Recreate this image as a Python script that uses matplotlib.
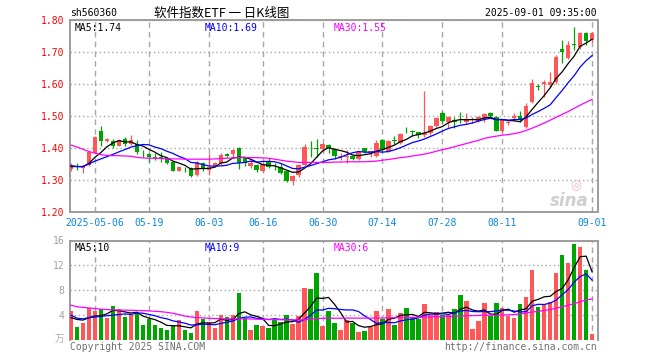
import numpy as np
import pandas as pd
import matplotlib
matplotlib.use("Agg")
import matplotlib.pyplot as plt


# ------------------------------------------------------------
# Trading days shown (2025-04-25 .. 2025-09-01, holidays removed)
# ------------------------------------------------------------
dates = pd.bdate_range("2025-04-25", "2025-09-01")
holidays = pd.to_datetime(["2025-05-01", "2025-05-02", "2025-05-05", "2025-06-02"])
dates = dates[~dates.isin(holidays)]

tick_dates = ["2025-05-06", "2025-05-19", "2025-06-03", "2025-06-16", "2025-06-30",
              "2025-07-14", "2025-07-28", "2025-08-11", "2025-09-01"]
tick_labels = ["2025-05-06", "05-19", "06-03", "06-16", "06-30",
               "07-14", "07-28", "08-11", "09-01"]

# ------------------------------------------------------------
# Daily K-line data
# ------------------------------------------------------------
open_ = [1.335, 1.345, 1.337, 1.347, 1.385, 1.453, 1.423, 1.422, 1.407, 1.428,
         1.411, 1.414, 1.385, 1.381, 1.372, 1.372, 1.370, 1.356, 1.329, 1.335,
         1.337, 1.316, 1.354, 1.332, 1.344, 1.352, 1.381, 1.381, 1.401, 1.370,
         1.345, 1.347, 1.329, 1.357, 1.345, 1.342, 1.329, 1.297, 1.316, 1.347,
         1.398, 1.400, 1.396, 1.409, 1.397, 1.371, 1.373, 1.375, 1.366, 1.399,
         1.385, 1.375, 1.425, 1.392, 1.424, 1.415, 1.457, 1.452, 1.449, 1.441,
         1.448, 1.469, 1.508, 1.482, 1.488, 1.489, 1.482, 1.486, 1.485, 1.490,
         1.508, 1.498, 1.453, 1.478, 1.493, 1.500, 1.467, 1.545, 1.593, 1.600,
         1.597, 1.607, 1.708, 1.680, 1.725, 1.715, 1.760, 1.737]
high = [1.354, 1.354, 1.348, 1.390, 1.437, 1.469, 1.432, 1.427, 1.428, 1.434,
        1.440, 1.425, 1.394, 1.384, 1.384, 1.388, 1.373, 1.359, 1.344, 1.342,
        1.340, 1.360, 1.357, 1.381, 1.356, 1.385, 1.385, 1.396, 1.403, 1.373,
        1.359, 1.349, 1.354, 1.370, 1.352, 1.352, 1.331, 1.316, 1.350, 1.411,
        1.423, 1.427, 1.415, 1.412, 1.400, 1.384, 1.395, 1.378, 1.391, 1.400,
        1.391, 1.425, 1.427, 1.425, 1.437, 1.446, 1.467, 1.456, 1.450, 1.578,
        1.472, 1.498, 1.516, 1.500, 1.498, 1.514, 1.508, 1.498, 1.500, 1.508,
        1.514, 1.500, 1.490, 1.488, 1.508, 1.517, 1.540, 1.615, 1.600, 1.612,
        1.639, 1.690, 1.738, 1.735, 1.777, 1.764, 1.764, 1.764]
low = [1.328, 1.330, 1.321, 1.345, 1.383, 1.407, 1.418, 1.399, 1.405, 1.405,
       1.408, 1.380, 1.373, 1.355, 1.361, 1.355, 1.350, 1.327, 1.327, 1.325,
       1.310, 1.314, 1.327, 1.316, 1.342, 1.347, 1.373, 1.370, 1.334, 1.344,
       1.338, 1.326, 1.326, 1.339, 1.331, 1.319, 1.295, 1.284, 1.310, 1.345,
       1.373, 1.373, 1.389, 1.385, 1.367, 1.363, 1.352, 1.363, 1.363, 1.385,
       1.372, 1.372, 1.386, 1.389, 1.412, 1.412, 1.446, 1.437, 1.430, 1.433,
       1.441, 1.466, 1.477, 1.461, 1.464, 1.477, 1.475, 1.478, 1.482, 1.482,
       1.496, 1.452, 1.451, 1.471, 1.484, 1.481, 1.461, 1.540, 1.580, 1.560,
       1.592, 1.600, 1.667, 1.677, 1.706, 1.710, 1.722, 1.732]
close = [1.345, 1.342, 1.345, 1.387, 1.435, 1.423, 1.428, 1.406, 1.425, 1.412,
         1.425, 1.386, 1.383, 1.373, 1.370, 1.370, 1.354, 1.329, 1.342, 1.333,
         1.314, 1.357, 1.333, 1.341, 1.354, 1.378, 1.376, 1.394, 1.352, 1.353,
         1.352, 1.331, 1.350, 1.342, 1.343, 1.323, 1.298, 1.312, 1.347, 1.402,
         1.396, 1.398, 1.411, 1.399, 1.375, 1.375, 1.376, 1.366, 1.387, 1.389,
         1.390, 1.417, 1.394, 1.422, 1.422, 1.443, 1.455, 1.450, 1.441, 1.448,
         1.469, 1.495, 1.484, 1.498, 1.480, 1.487, 1.490, 1.489, 1.496, 1.506,
         1.500, 1.454, 1.487, 1.482, 1.501, 1.487, 1.532, 1.602, 1.591, 1.606,
         1.607, 1.685, 1.701, 1.722, 1.721, 1.760, 1.735, 1.760]

ma5 = [1.342, 1.342, 1.342, 1.352, 1.371, 1.386, 1.404, 1.416, 1.423, 1.419,
       1.419, 1.411, 1.406, 1.396, 1.387, 1.376, 1.370, 1.359, 1.353, 1.346,
       1.334, 1.335, 1.336, 1.336, 1.340, 1.353, 1.356, 1.369, 1.371, 1.371,
       1.365, 1.356, 1.348, 1.346, 1.344, 1.338, 1.331, 1.324, 1.325, 1.337,
       1.351, 1.371, 1.391, 1.401, 1.396, 1.392, 1.387, 1.378, 1.376, 1.379,
       1.382, 1.390, 1.395, 1.402, 1.409, 1.420, 1.427, 1.438, 1.442, 1.447,
       1.453, 1.461, 1.467, 1.479, 1.485, 1.489, 1.488, 1.489, 1.488, 1.494,
       1.496, 1.489, 1.489, 1.486, 1.485, 1.482, 1.498, 1.521, 1.543, 1.564,
       1.588, 1.618, 1.638, 1.664, 1.687, 1.718, 1.728, 1.740]
ma10 = [1.345, 1.342, 1.342, 1.350, 1.359, 1.366, 1.373, 1.380, 1.388, 1.395,
        1.403, 1.407, 1.411, 1.410, 1.403, 1.398, 1.390, 1.383, 1.374, 1.367,
        1.355, 1.353, 1.348, 1.344, 1.343, 1.344, 1.346, 1.352, 1.353, 1.355,
        1.359, 1.356, 1.358, 1.358, 1.357, 1.352, 1.344, 1.336, 1.335, 1.340,
        1.345, 1.351, 1.357, 1.363, 1.366, 1.371, 1.379, 1.385, 1.389, 1.387,
        1.387, 1.389, 1.387, 1.389, 1.394, 1.401, 1.409, 1.417, 1.422, 1.428,
        1.436, 1.444, 1.453, 1.461, 1.466, 1.471, 1.474, 1.478, 1.484, 1.489,
        1.493, 1.488, 1.489, 1.487, 1.489, 1.489, 1.494, 1.505, 1.514, 1.524,
        1.535, 1.558, 1.580, 1.604, 1.626, 1.653, 1.673, 1.689]
ma30 = [1.409, 1.403, 1.396, 1.389, 1.384, 1.379, 1.377, 1.376, 1.376, 1.375,
        1.374, 1.371, 1.369, 1.368, 1.368, 1.367, 1.366, 1.366, 1.366, 1.365,
        1.365, 1.365, 1.365, 1.365, 1.366, 1.367, 1.368, 1.369, 1.370, 1.370,
        1.370, 1.370, 1.369, 1.368, 1.365, 1.362, 1.359, 1.357, 1.355, 1.355,
        1.355, 1.355, 1.355, 1.355, 1.356, 1.356, 1.357, 1.357, 1.357, 1.357,
        1.358, 1.359, 1.362, 1.364, 1.367, 1.370, 1.372, 1.375, 1.378, 1.381,
        1.385, 1.390, 1.395, 1.399, 1.404, 1.409, 1.414, 1.419, 1.424, 1.430,
        1.434, 1.437, 1.440, 1.442, 1.445, 1.449, 1.455, 1.462, 1.470, 1.478,
        1.487, 1.496, 1.505, 1.514, 1.524, 1.534, 1.543, 1.552]

# volume, unit: 10k lots
volume = [4.64, 2.08, 2.72, 5.17, 4.64, 4.96, 3.57, 5.44, 4.96, 3.68,
          4.00, 4.27, 2.40, 3.31, 2.40, 1.97, 1.65, 2.19, 3.20, 1.60,
          1.12, 4.64, 3.31, 2.88, 1.97, 4.00, 3.63, 4.00, 7.57, 3.47,
          1.60, 2.40, 2.24, 1.97, 3.31, 2.93, 4.00, 2.56, 3.89, 8.37,
          8.16, 10.77, 2.24, 4.69, 2.77, 1.60, 3.20, 2.67, 1.33, 1.49,
          2.13, 4.69, 3.36, 4.96, 2.40, 4.37, 5.17, 3.63, 3.31, 5.76,
          4.00, 4.53, 4.00, 4.00, 4.96, 7.20, 6.24, 1.76, 3.04, 5.92,
          3.89, 5.92, 5.12, 3.89, 3.52, 5.76, 6.88, 11.20, 5.33, 5.60,
          6.13, 10.77, 13.60, 12.32, 15.36, 14.93, 11.20, 0.96]
vol_ma5 = [3.60, 3.30, 3.20, 3.60, 3.85, 3.91, 4.21, 4.76, 4.71, 4.52,
           4.33, 4.47, 3.86, 3.53, 3.28, 2.87, 2.35, 2.30, 2.28, 2.12,
           1.95, 2.55, 2.77, 2.71, 2.78, 3.36, 3.16, 3.30, 4.23, 4.53,
           4.05, 3.81, 3.46, 2.34, 2.30, 2.57, 2.89, 2.95, 3.34, 4.35,
           5.40, 6.75, 6.69, 6.85, 5.73, 4.41, 2.90, 2.99, 2.31, 2.06,
           2.16, 2.46, 2.60, 3.33, 3.51, 3.96, 4.05, 4.11, 3.78, 4.45,
           4.37, 4.25, 4.32, 4.46, 4.30, 4.94, 5.28, 4.83, 4.64, 4.83,
           4.17, 4.11, 4.78, 4.95, 4.47, 4.84, 5.03, 6.25, 6.54, 6.95,
           7.03, 7.81, 8.29, 9.68, 11.64, 13.40, 13.48, 10.95]
vol_ma10 = [4.00, 3.50, 3.40, 3.60, 3.70, 3.80, 3.90, 4.00, 4.10, 4.19,
            4.12, 4.34, 4.31, 4.12, 3.90, 3.60, 3.41, 3.08, 2.91, 2.70,
            2.41, 2.45, 2.54, 2.50, 2.45, 2.66, 2.85, 3.04, 3.47, 3.66,
            3.71, 3.48, 3.38, 3.29, 3.42, 3.31, 3.35, 3.21, 2.84, 3.33,
            3.98, 4.82, 4.82, 5.09, 5.04, 4.91, 4.83, 4.84, 4.58, 3.89,
            3.29, 2.68, 2.79, 2.82, 2.78, 3.06, 3.26, 3.35, 3.55, 3.98,
            4.17, 4.15, 4.21, 4.12, 4.37, 4.66, 4.76, 4.58, 4.55, 4.57,
            4.55, 4.69, 4.81, 4.79, 4.65, 4.51, 4.57, 5.51, 5.74, 5.71,
            5.94, 6.42, 7.27, 8.11, 9.30, 10.21, 10.64, 9.62]
vol_ma30 = [5.60, 5.35, 5.25, 5.15, 5.05, 4.95, 4.90, 4.85, 4.80, 4.80,
            4.78, 4.75, 4.72, 4.68, 4.62, 4.55, 4.45, 4.30, 4.10, 3.85,
            3.70, 3.60, 3.55, 3.50, 3.45, 3.42, 3.40, 3.40, 3.40, 3.40,
            3.38, 3.35, 3.32, 3.30, 3.28, 3.26, 3.25, 3.24, 3.24, 3.25,
            3.35, 3.45, 3.48, 3.50, 3.50, 3.50, 3.52, 3.52, 3.52, 3.52,
            3.52, 3.53, 3.54, 3.56, 3.58, 3.60, 3.62, 3.64, 3.66, 3.70,
            3.72, 3.75, 3.78, 3.80, 3.82, 3.86, 3.90, 3.92, 3.95, 4.00,
            4.00, 4.00, 4.02, 4.05, 4.10, 4.20, 4.35, 4.50, 4.60, 4.75,
            4.90, 5.10, 5.35, 5.60, 5.85, 6.15, 6.45, 6.60]

# ------------------------------------------------------------
# Style
# ------------------------------------------------------------
RED = "#ff5757"
GREEN = "#00a600"
GRID = "#a8a8a8"
FRAME = "#9c9c9c"
BLUE_TXT = "#0a86dc"
MONO = "DejaVu Sans Mono"
CJK = ["Noto Sans CJK SC", "DejaVu Sans"]

o = np.array(open_)
h = np.array(high)
l = np.array(low)
c = np.array(close)
x = np.arange(len(dates))
colors = np.where(c >= o, RED, GREEN)
tick_pos = [dates.get_loc(pd.Timestamp(d)) for d in tick_dates]

W, H = 660, 360
fig = plt.figure(figsize=(W / 100, H / 100), dpi=100)
ax = fig.add_axes([70 / W, 148 / H, 528 / W, 192 / H])
axv = fig.add_axes([70 / W, 20 / H, 528 / W, 99.5 / H])

x_lim = (-0.17, 87.98)

# ---- price panel ----
ax.vlines(x, l, h, colors=colors, lw=0.9, zorder=3)
ax.bar(x, np.maximum(np.abs(c - o), 0.0012), bottom=np.minimum(o, c),
       width=0.74, color=colors, lw=0, zorder=3)
ax.plot(x, ma5, color="black", lw=0.9, zorder=4)
ax.plot(x, ma10, color="#0000ff", lw=0.9, zorder=4)
ax.plot(x, ma30, color="#ff00ff", lw=0.9, zorder=4)

ax.set_xlim(*x_lim)
ax.set_ylim(1.20, 1.80)
ax.set_yticks([1.20, 1.30, 1.40, 1.50, 1.60, 1.70, 1.80])
ax.set_yticklabels([f"{v:.2f}" for v in [1.20, 1.30, 1.40, 1.50, 1.60, 1.70, 1.80]],
                   color="#ff0000", family=MONO, fontsize=7)
ax.set_xticks(tick_pos)
ax.set_xticklabels(tick_labels, color=BLUE_TXT, family=MONO, fontsize=7)
ax.tick_params(axis="both", length=0)
ax.tick_params(axis="y", pad=4)
ax.tick_params(axis="x", pad=4)
ax.grid(axis="y", color=GRID, ls=(0, (1, 2)), lw=1)
ax.grid(axis="x", color=GRID, ls=(0, (4, 3)), lw=1)
ax.set_axisbelow(True)
for s in ax.spines.values():
    s.set_color(FRAME)
    s.set_linewidth(1.4)

ax.text(0.008, 0.985, "MA5:1.74", transform=ax.transAxes, ha="left", va="top",
        family=MONO, fontsize=7, color="black")
ax.text(0.255, 0.985, "MA10:1.69", transform=ax.transAxes, ha="left", va="top",
        family=MONO, fontsize=7, color="#0000ff")
ax.text(0.500, 0.985, "MA30:1.55", transform=ax.transAxes, ha="left", va="top",
        family=MONO, fontsize=7, color="#ff00ff")
ax.text(0.945, 0.055, "sina", transform=ax.transAxes, ha="center", va="center",
        fontsize=12, fontweight="bold", style="italic", color="#cfcfcf", zorder=1)
ax.text(0.958, 0.135, "◎", transform=ax.transAxes, ha="center", va="center",
        fontsize=9, color="#f2b8b8", zorder=1)

# ---- volume panel ----
axv.bar(x, volume, width=0.74, color=colors, lw=0, zorder=3)
axv.plot(x, vol_ma5, color="black", lw=0.9, zorder=4)
axv.plot(x, vol_ma10, color="#0000ff", lw=0.9, zorder=4)
axv.plot(x, vol_ma30, color="#ff00ff", lw=0.9, zorder=4)
axv.set_xlim(*x_lim)
axv.set_ylim(0, 16)
axv.set_yticks([4, 8, 12, 16])
axv.set_yticklabels(["4", "8", "12", "16"], color="#a0a0a0", family=MONO, fontsize=7)
axv.set_xticks(tick_pos)
axv.set_xticklabels([])
axv.tick_params(axis="both", length=0)
axv.tick_params(axis="y", pad=4)
axv.grid(axis="y", color=GRID, ls=(0, (1, 2)), lw=1)
axv.grid(axis="x", color=GRID, ls=(0, (4, 3)), lw=1)
axv.set_axisbelow(True)
for s in axv.spines.values():
    s.set_color(FRAME)
    s.set_linewidth(1.4)
axv.spines["bottom"].set_visible(False)

axv.text(0.008, 0.975, "MA5:10", transform=axv.transAxes, ha="left", va="top",
         family=MONO, fontsize=7, color="black")
axv.text(0.255, 0.975, "MA10:9", transform=axv.transAxes, ha="left", va="top",
         family=MONO, fontsize=7, color="#0000ff")
axv.text(0.500, 0.975, "MA30:6", transform=axv.transAxes, ha="left", va="top",
         family=MONO, fontsize=7, color="#ff00ff")

# ---- header / footer texts ----
fig.text(70 / W, 1 - 13 / H, "sh560360", ha="left", va="center",
         family=MONO, fontsize=7, color="black")
fig.text(222 / W, 1 - 13 / H, "软件指数ETF 一 日K线图", ha="center", va="center",
         family=CJK, fontsize=9, color="black")
fig.text(597 / W, 1 - 13 / H, "2025-09-01 09:35:00", ha="right", va="center",
         family=MONO, fontsize=7, color="black")
fig.text(64 / W, 1 - 339 / H, "万", ha="right", va="center",
         family=CJK, fontsize=7, color="#b0b0b0")
fig.text(70 / W, 1 - 347 / H, "Copyright 2025 SINA.COM", ha="left", va="center",
         family=MONO, fontsize=7, color="#707070")
fig.text(597 / W, 1 - 347 / H, "http://finance.sina.com.cn", ha="right", va="center",
         family=MONO, fontsize=7, color="#707070")

fig.savefig("out.png", dpi=100)
